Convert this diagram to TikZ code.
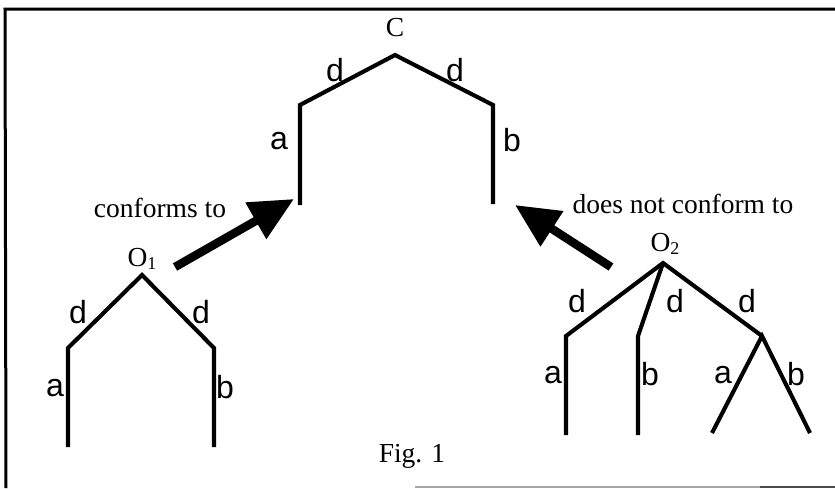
\documentclass[tikz,border=0pt]{standalone}
\usepackage{fontspec}
\setmainfont{Liberation Serif}
\newfontfamily\labfont{Liberation Sans}
\usetikzlibrary{arrows.meta}
\tikzset{
  edge/.style={line width=4.1pt, line join=miter, line cap=butt},
  lab/.style={font=\labfont\fontsize{32}{34}\selectfont, inner sep=0pt},
  ttl/.style={font=\fontsize{27.5}{30}\selectfont, inner sep=0pt},
  bigarrow/.style={line width=8.5pt, -{Triangle[length=44pt,width=40pt]}},
  frameline/.style={line width=3pt}
}
\begin{document}
\begin{tikzpicture}[x=1pt,y=-1pt]
\useasboundingbox (0,0) rectangle (835,488);
% frame
\coordinate (ftl) at (5,9);
\coordinate (ftr) at (835,9);
\coordinate (fbl) at (6,488);
\draw[frameline] (ftr) -- (ftl) -- (fbl);
\coordinate (fb1) at (415,487);
\coordinate (fb2) at (760,487);
\coordinate (fb3) at (835,487);
\draw[line width=1.5pt, black!35] (fb1) -- (fb2);
\draw[line width=1.8pt, black!70] (fb2) -- (fb3);

% tree C
\coordinate (c0) at (395,55);
\coordinate (cl) at (300,105);
\coordinate (cle) at (300,205);
\coordinate (cr) at (493,105);
\coordinate (cre) at (493,204);
\draw[edge] (cle) -- (cl) -- (c0) -- (cr) -- (cre);
\node[ttl] (C) at (395,28) {C};
\node[lab] (cd1) at (335,70) {d};
\node[lab] (cd2) at (455,70) {d};
\node[lab] (ca) at (279,141) {a};
\node[lab] (cb) at (512,140) {b};

% tree O1
\coordinate (p0) at (142,275);
\coordinate (pl) at (68,348);
\coordinate (ple) at (68,447);
\coordinate (pr) at (214,348);
\coordinate (pre) at (214,447);
\draw[edge] (ple) -- (pl) -- (p0) -- (pr) -- (pre);
\node[ttl] (O1) at (142,259) {O\raisebox{-0.1em}{\fontsize{18}{20}\selectfont 1}};
\node[lab] (pd1) at (78,312) {d};
\node[lab] (pd2) at (201,312) {d};
\node[lab] (pa) at (55,388) {a};
\node[lab] (pb) at (225,387) {b};

% tree O2
\coordinate (q0) at (663,263);
\coordinate (ql) at (566,336);
\coordinate (qle) at (566,435);
\coordinate (qm) at (638,336);
\coordinate (qme) at (638,435);
\coordinate (qr) at (762,336);
\coordinate (qra) at (712,433);
\coordinate (qrb) at (810,433);
\draw[edge] (qle) -- (ql) -- (q0) -- (qr);
\draw[edge] (q0) -- (qm) -- (qme);
\draw[edge] (qra) -- (qr) -- (qrb);
\node[ttl] (O2) at (665,244) {O\raisebox{-0.1em}{\fontsize{18}{20}\selectfont 2}};
\node[lab] (qd1) at (577,301) {d};
\node[lab] (qd2) at (675,301) {d};
\node[lab] (qd3) at (747,301) {d};
\node[lab] (qa1) at (553,375) {a};
\node[lab] (qb1) at (650,374) {b};
\node[lab] (qa2) at (723,375) {a};
\node[lab] (qb2) at (796,374) {b};

% arrows
\coordinate (a1s) at (175,267);
\coordinate (a1e) at (294,199);
\draw[bigarrow] (a1s) -- (a1e);
\node[ttl] (conf) at (160,208) {conforms to};
\coordinate (a2s) at (611,267);
\coordinate (a2e) at (515,205);
\draw[bigarrow] (a2s) -- (a2e);
\node[ttl] (nconf) at (683,204) {does not conform to};

\node[ttl] (fig) at (412,456) {Fig. 1};
\end{tikzpicture}
\end{document}
